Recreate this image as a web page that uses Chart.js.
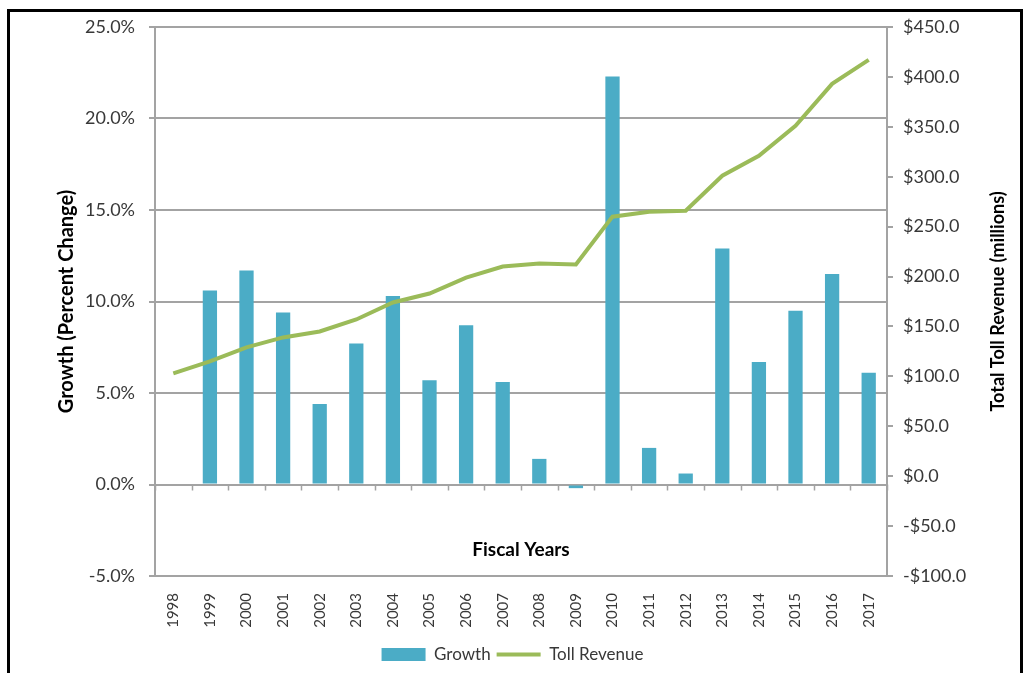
<!DOCTYPE html>
<html>
<head>
<meta charset="utf-8">
<script src="https://cdn.jsdelivr.net/npm/chart.js@4.4.1/dist/chart.umd.min.js"></script>
<style>
  html, body { margin: 0; padding: 0; background: #fff; overflow: hidden; }
  #wrap { position: absolute; left: 0; top: 0; width: 1025px; height: 673px; }
  #frame { position: absolute; left: 7px; top: 9px; width: 1010px; height: 700px;
           border: 3px solid #000; pointer-events: none; }
</style>
</head>
<body>
<div id="wrap"><canvas id="myChart" width="1025" height="673"></canvas></div>
<div id="frame"></div>
<script>
const years = ['1998','1999','2000','2001','2002','2003','2004','2005','2006','2007',
               '2008','2009','2010','2011','2012','2013','2014','2015','2016','2017'];
const growthPct = [null, 10.6, 11.7, 9.4, 4.4, 7.7, 10.3, 5.7, 8.7, 5.6,
                   1.4, -0.2, 22.3, 2.0, 0.6, 12.9, 6.7, 9.5, 11.5, 6.1];
const tollRevenue = [103, 115, 129, 139, 145, 157, 174, 183, 199, 210,
                     213, 212, 260, 265, 266, 301, 321, 351, 393, 417];
const growthRange = [-5, 25, 5];
const revenueRange = [-100, 450, 50];

const gridGray = '#a3a3a3';
const labelGray = '#383838';
const font = 'Lato';

// short marks under the zero line, the right-hand title and the x title
const extras = {
  id: 'extras',
  beforeDatasetsDraw(chart) {
    const ctx = chart.ctx;
    const x = chart.scales.x;
    const y0 = chart.scales.y.getPixelForValue(0);
    const step = x.getPixelForValue(1) - x.getPixelForValue(0);
    ctx.save();
    ctx.strokeStyle = gridGray;
    ctx.lineWidth = 1.5;
    for (let i = 0; i <= years.length; i++) {
      const px = Math.round(x.getPixelForValue(i) - step / 2) + 0.5;
      ctx.beginPath();
      ctx.moveTo(px, y0);
      ctx.lineTo(px, y0 + 6);
      ctx.stroke();
    }
    ctx.restore();
  },
  afterDraw(chart) {
    const ctx = chart.ctx;
    const area = chart.chartArea;
    ctx.save();
    ctx.fillStyle = '#000';
    ctx.textAlign = 'center';
    ctx.textBaseline = 'middle';
    ctx.font = 'bold 19px ' + font;
    ctx.fillText('Fiscal Years', (area.left + area.right) / 2, area.bottom - 26);
    ctx.font = 'bold 18px ' + font;
    ctx.translate(998, (area.top + area.bottom) / 2);
    ctx.rotate(-Math.PI / 2);
    ctx.fillText('Total Toll Revenue (millions)', 0, 0);
    ctx.restore();
  }
};

new Chart('myChart', {
  type: 'bar',
  data: {
    labels: years,
    datasets: [{
      label: 'Growth',
      data: growthPct,
      backgroundColor: '#4bacc6',
      borderWidth: 0,
      categoryPercentage: 1,
      barPercentage: 0.39,
      pointStyle: 'rect',
      yAxisID: 'y',
      order: 1
    }, {
      type: 'line',
      label: 'Toll Revenue',
      data: tollRevenue,
      borderColor: '#9bbb59',
      backgroundColor: '#9bbb59',
      borderWidth: 4,
      pointRadius: 0,
      pointStyle: 'line',
      tension: 0,
      yAxisID: 'y1',
      order: 0
    }]
  },
  options: {
    responsive: false,
    animation: false,
    layout: { padding: { top: 27, left: 0, right: 0, bottom: 0 } },
    plugins: {
      tooltip: { enabled: false },
      legend: {
        display: true,
        position: 'bottom',
        labels: {
          usePointStyle: true,
          pointStyleWidth: 44,
          boxHeight: 13,
          padding: 6,
          color: labelGray,
          font: { family: font, size: 17 },
          sort: (a, b) => a.datasetIndex - b.datasetIndex
        }
      }
    },
    scales: {
      x: {
        grid: { display: false },
        border: { display: false },
        ticks: {
          autoSkip: false, minRotation: 90, maxRotation: 90, padding: 9,
          color: labelGray, font: { family: font, size: 15 }
        },
        afterFit: s => { s.height = 64; }
      },
      y: {
        position: 'left',
        min: growthRange[0], max: growthRange[1],
        ticks: {
          stepSize: growthRange[2], padding: 14, color: labelGray,
          font: { family: font, size: 18 },
          callback: v => v.toFixed(1) + '%'
        },
        grid: { color: gridGray, lineWidth: 2, tickLength: 6 },
        border: { color: gridGray, width: 2 },
        title: {
          display: true, text: 'Growth (Percent Change)', color: '#000',
          font: { family: font, size: 20, weight: 'bold' },
          padding: { top: 55, bottom: 0 }
        },
        afterFit: s => { s.width = 155; }
      },
      y1: {
        position: 'right',
        min: revenueRange[0], max: revenueRange[1],
        ticks: {
          stepSize: revenueRange[2], padding: 10, color: labelGray,
          font: { family: font, size: 18 },
          callback: v => (v < 0 ? '-$' : '$') + Math.abs(v).toFixed(1)
        },
        grid: { drawOnChartArea: false, color: gridGray, lineWidth: 2, tickLength: 6 },
        border: { color: gridGray, width: 2 },
        afterFit: s => { s.width = 138; }
      }
    }
  },
  plugins: [extras]
});
</script>
</body>
</html>
